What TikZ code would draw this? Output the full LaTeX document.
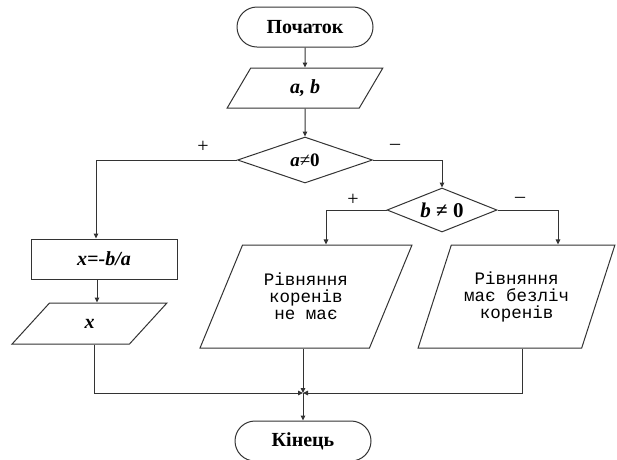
\documentclass[tikz,border=0pt]{standalone}
\usepackage{fontspec}
\setmainfont{Liberation Serif}
\newfontfamily\rivfont{Liberation Mono}
\usepackage{tikz}
\usetikzlibrary{arrows.meta, shapes.geometric, shapes.misc, positioning, calc}
\tikzset{
  term/.style={rounded rectangle, draw=black!80, line width=1pt, inner sep=0pt,
               minimum width=136pt, minimum height=40pt,
               font=\fontsize{20}{23}\selectfont\bfseries},
  dat/.style={trapezium, trapezium stretches=true, draw=black!80, line width=1pt,
              inner sep=0pt, align=center},
  proc/.style={rectangle, draw=black!80, line width=1pt, inner sep=0pt,
               minimum width=146pt, minimum height=40pt},
  cond/.style={diamond, draw=black!80, line width=1pt, inner sep=0pt, aspect=2.8},
  mth/.style={font=\fontsize{20}{23}\selectfont\bfseries\itshape},
  riv/.style={font=\fontsize{17.5}{17}\selectfont\rivfont},
  sign/.style={font=\fontsize{20}{23}\selectfont, inner sep=0pt},
  arc/.style={-{Triangle[length=5pt, width=4.5pt]}, line width=1pt, black!80}
}
\begin{document}
\begin{tikzpicture}[x=1pt, y=-1pt]
  \useasboundingbox[fill=white] (0,0) rectangle (617,459);
  % blocks
  \node[term] (start) at (305,27) {Початок};
  \node[dat, mth, trapezium left angle=69, trapezium right angle=111,
        minimum width=156pt, minimum height=40pt] (ab) at (305,88) {a, b};
  \node[cond, minimum width=135pt, minimum height=46pt] (d1) at (305,160)
    {\fontsize{19}{22}\selectfont{\bfseries\itshape a}≠\textbf{0}};
  \node[proc, mth] (calc) at (104,259) {x=-b/a};
  \node[dat, mth, trapezium left angle=63, trapezium right angle=117,
        minimum width=155pt, minimum height=41pt] (outx) at (89.5,323.5) {x};
  \node[cond, minimum width=110pt, minimum height=44pt] (d2) at (442,210)
    {\fontsize{21}{24}\selectfont\bfseries{\itshape b} ≠ 0};
  \node[dat, riv, trapezium left angle=59, trapezium right angle=121,
        minimum width=212pt, minimum height=103pt] (none) at (306,296.5)
    {Рівняння\\коренів\\не має};
  \node[dat, riv, trapezium left angle=62, trapezium right angle=118,
        minimum width=197pt, minimum height=103pt] (many) at (516.5,296.5)
    {Рівняння\\має безліч\\коренів};
  \coordinate (j) at (303,393);
  \node[term] (end) at (303,441) {Кінець};
  % branch signs
  \node[sign] (p1) at (203,147) {+};
  \node[sign] (m1) at (395,147) {–};
  \node[sign] (p2) at (353,200) {+};
  \node[sign] (m2) at (520,200) {–};
  % connectors
  \foreach \a/\b in {start/ab, ab/d1}
    \draw[arc] (\a) -- (\b);
  \draw[arc] (d1.west) -| ([xshift=-8pt]calc.north);
  \draw[arc] ([xshift=-7pt]calc.south) -- ([xshift=-7pt]calc.south |- outx.north);
  \draw[arc] (d1.east) -| (d2.north);
  \draw[arc] (d2.west) -| ([xshift=20pt]none.north);
  \draw[arc] (d2.east) -| ([xshift=41.5pt]many.north);
  \draw[arc] (j |- none.south) -- (j);
  \draw[arc] ([xshift=4.5pt]outx.south) |- (j);
  \draw[arc] ([xshift=5.5pt]many.south) |- (j);
  \draw[arc] (j) -- (end);
\end{tikzpicture}
\end{document}
